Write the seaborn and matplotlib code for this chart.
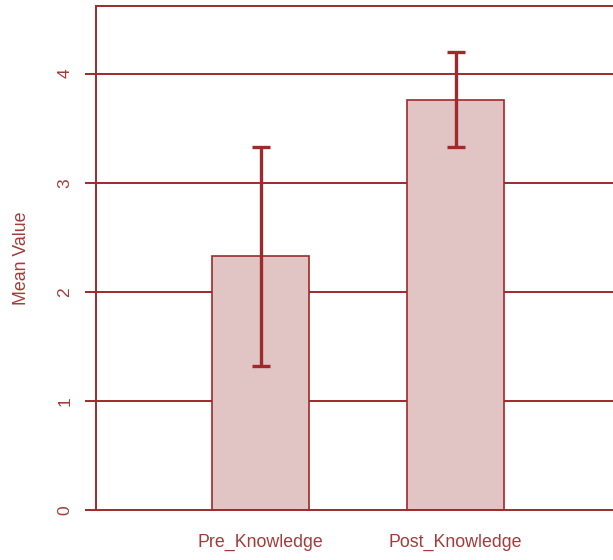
import matplotlib
matplotlib.use("Agg")
import matplotlib.pyplot as plt
import seaborn as sns
import pandas as pd
import numpy as np

categories = ["Pre_Knowledge", "Post_Knowledge"]
means = [2.325, 3.76]
err_low = [1.32, 3.33]
err_high = [3.33, 4.20]
yticks = [0, 1, 2, 3, 4]

dark = "#9E2A2B"
text_c = "#A63A3A"
fill = "#E0C5C4"

sns.set_theme(style="white")
plt.rcParams["font.family"] = ["Liberation Sans", "DejaVu Sans"]

fig = plt.figure(figsize=(6.13, 5.60), dpi=100)
ax = fig.add_axes([96/613, 50/560, 1 - 96/613, 504/560])

df = pd.DataFrame({"cat": categories, "mean": means})
for y in yticks[1:]:
    ax.axhline(y, color=dark, lw=1.4, zorder=0)

sns.barplot(data=df, x="cat", y="mean", color=fill, width=0.5, errorbar=None,
            edgecolor=dark, linewidth=1.2, saturation=1, ax=ax, zorder=2)

m = np.array(means)
lo = m - np.array(err_low)
hi = np.array(err_high) - m
ax.errorbar(x=np.arange(len(categories)), y=m, yerr=[lo, hi], fmt="none",
            ecolor=dark, elinewidth=2.4, capsize=6.5, capthick=2.4, zorder=3)

ax.set_xlim(-0.844, 1 + (613 - 455.5) / 195)
ax.set_ylim(0, 4.62)
ax.set_yticks(yticks)
ax.set_yticklabels([str(t) for t in yticks], rotation=90, va="center",
                   fontsize=12.5, color=text_c)
ax.tick_params(axis="y", length=8, width=1.4, color=dark, pad=9, left=True)
ax.tick_params(axis="x", length=0, pad=17, labelsize=12.8, labelcolor=text_c)
ax.set_xlabel("")
ax.set_ylabel("Mean Value", fontsize=12.8, color=text_c, labelpad=20)

for s in ["left", "bottom", "top"]:
    ax.spines[s].set_color(dark)
    ax.spines[s].set_linewidth(1.4)
    ax.spines[s].set_visible(True)
ax.spines["right"].set_visible(False)

fig.savefig("out.png", dpi=100)
